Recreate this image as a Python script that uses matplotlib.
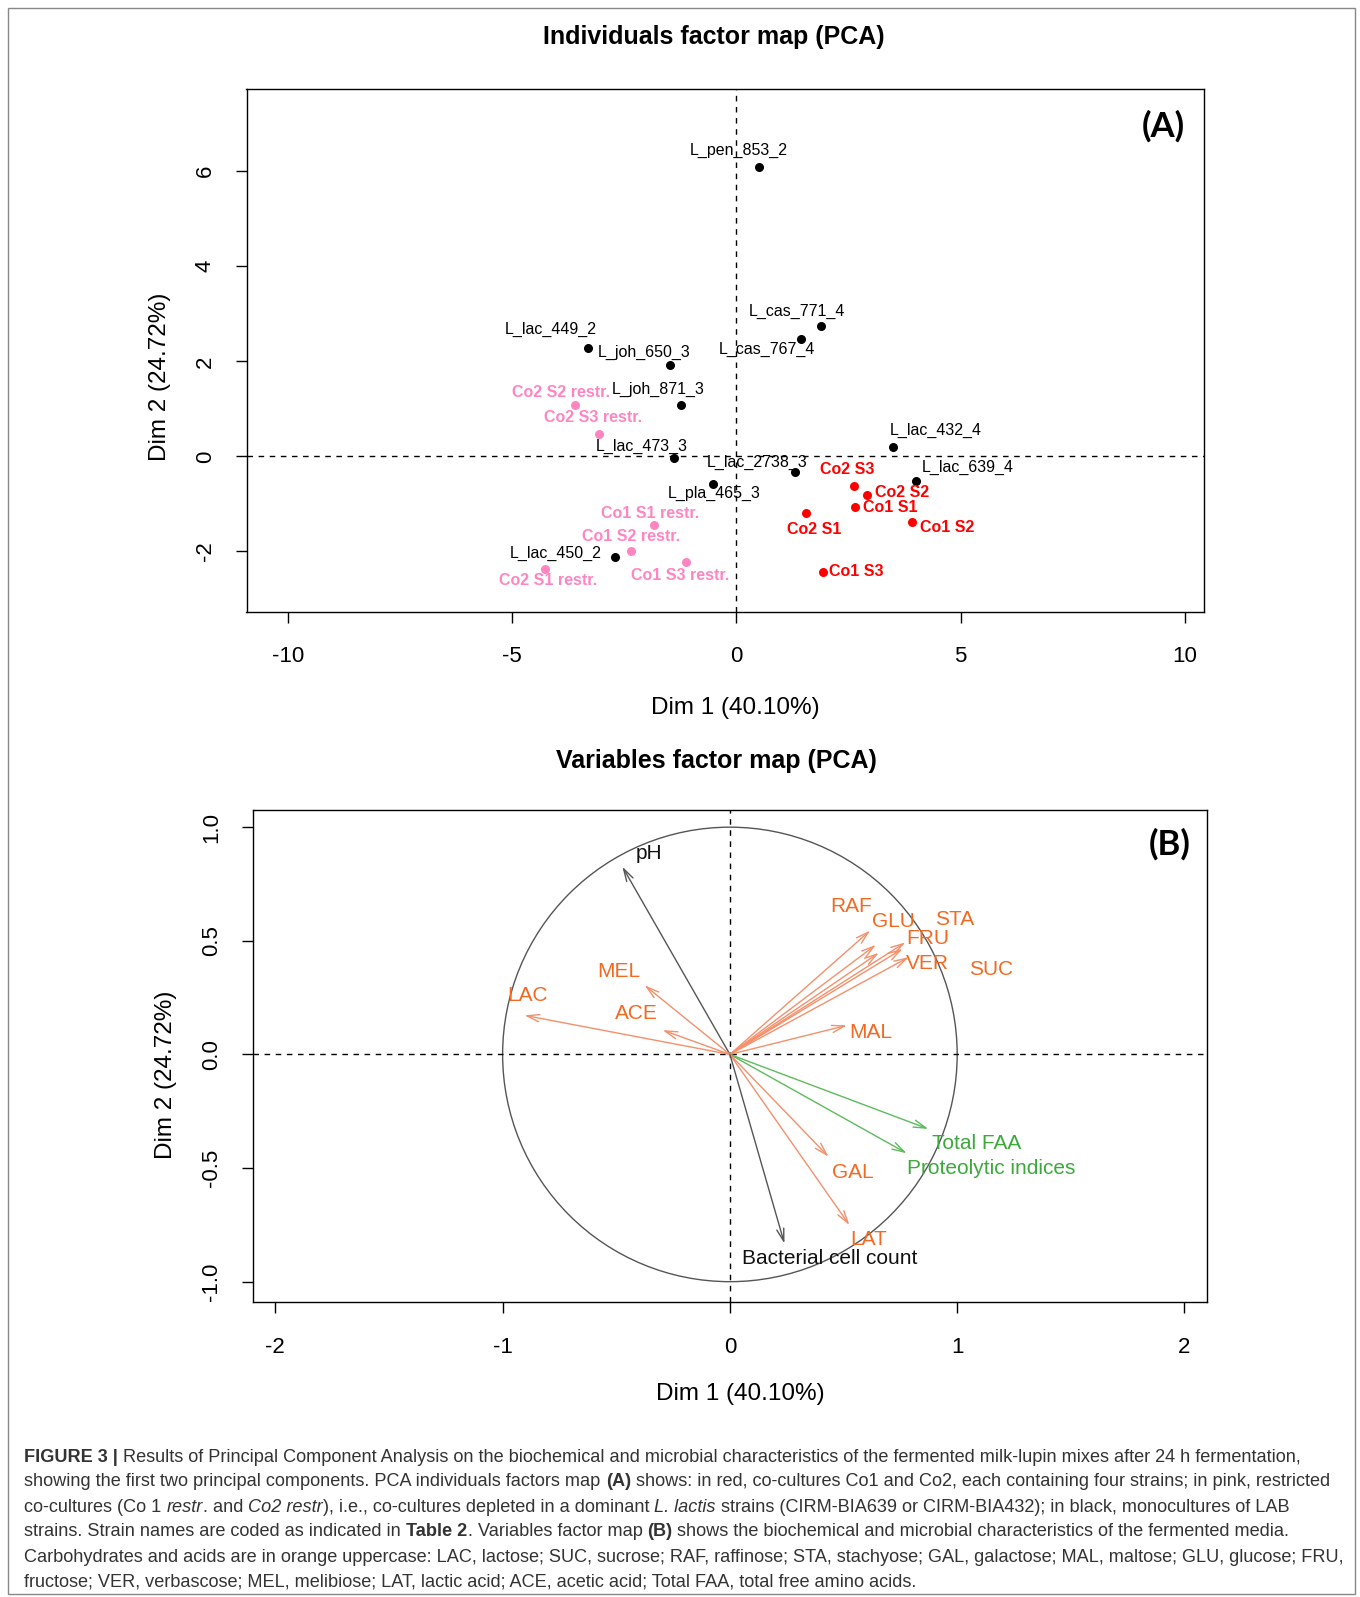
import matplotlib
matplotlib.use("Agg")
import matplotlib.pyplot as plt
from matplotlib.patches import Rectangle, Circle, FancyArrowPatch

plt.rcParams['font.family'] = ['Liberation Sans', 'DejaVu Sans']
plt.rcParams['axes.unicode_minus'] = False

# ---------------- data: individuals (panel A) ----------------
ind_names = ['L_pen_853_2', 'L_cas_771_4', 'L_cas_767_4', 'L_lac_449_2', 'L_joh_650_3',
             'L_joh_871_3', 'Co2 S2 restr.', 'Co2 S3 restr.', 'L_lac_473_3', 'L_lac_432_4',
             'L_lac_2738_3', 'L_lac_639_4', 'L_pla_465_3', 'Co2 S3', 'Co2 S2', 'Co1 S1',
             'Co2 S1', 'Co1 S2', 'Co1 S3', 'Co1 S1 restr.', 'Co1 S2 restr.', 'L_lac_450_2',
             'Co1 S3 restr.', 'Co2 S1 restr.']
ind_x = [0.51, 1.89, 1.44, -3.32, -1.48, -1.24, -3.61, -3.06, -1.40, 3.50,
         1.31, 4.01, -0.52, 2.62, 2.91, 2.64, 1.56, 3.92, 1.92, -1.83, -2.35, -2.71,
         -1.12, -4.27]
ind_y = [6.08, 2.75, 2.47, 2.29, 1.92, 1.08, 1.08, 0.47, -0.04, 0.20,
         -0.33, -0.51, -0.59, -0.62, -0.81, -1.07, -1.20, -1.39, -2.44, -1.45, -1.99, -2.11,
         -2.22, -2.37]
ind_group = ['mono', 'mono', 'mono', 'mono', 'mono', 'mono', 'restr', 'restr', 'mono', 'mono',
             'mono', 'mono', 'mono', 'co', 'co', 'co', 'co', 'co', 'co', 'restr', 'restr', 'mono',
             'restr', 'restr']
# label anchor (repelled by the R plot)
ind_lab_x = [0.05, 1.34, 0.68, -4.14, -2.07, -1.75, -3.91, -3.21, -2.12, 4.44,
             0.46, 5.17, -0.50, 2.46, 3.69, 3.44, 1.73, 4.69, 2.68, -1.93, -2.34, -4.03,
             -1.25, -4.21]
ind_lab_y = [6.43, 3.06, 2.25, 2.68, 2.19, 1.41, 1.35, 0.81, 0.21, 0.54,
             -0.13, -0.24, -0.77, -0.28, -0.77, -1.07, -1.54, -1.50, -2.42, -1.20, -1.69, -2.04,
             -2.51, -2.61]

# ---------------- data: variables (panel B) ----------------
var_names = ['pH', 'LAC', 'MEL', 'ACE', 'MAL', 'RAF', 'GLU', 'SUC', 'STA', 'FRU', 'VER',
             'Total FAA', 'Proteolytic indices', 'GAL', 'LAT', 'Bacterial cell count']
var_x = [-0.473, -0.904, -0.375, -0.296, 0.515, 0.617, 0.642, 0.655, 0.772, 0.760, 0.787,
         0.873, 0.778, 0.434, 0.526, 0.240]
var_y = [0.826, 0.172, 0.304, 0.107, 0.128, 0.545, 0.482, 0.447, 0.493, 0.465, 0.428,
         -0.328, -0.435, -0.450, -0.751, -0.832]
var_group = ['micro', 'carb', 'carb', 'carb', 'carb', 'carb', 'carb', 'carb', 'carb', 'carb', 'carb',
             'prot', 'prot', 'carb', 'carb', 'micro']
var_lab_x = [-0.355, -0.89, -0.49, -0.41, 0.62, 0.535, 0.72, 1.15, 0.99, 0.87, 0.87,
             1.085, 1.15, 0.54, 0.61, 0.44]
var_lab_y = [0.883, 0.26, 0.365, 0.18, 0.098, 0.652, 0.584, 0.372, 0.592, 0.51, 0.40,
             -0.392, -0.50, -0.52, -0.815, -0.898]

ind_col = {'mono': 'black', 'co': '#FF0000', 'restr': '#FF85C2'}
var_line_col = {'micro': '#555555', 'carb': '#F4906C', 'prot': '#5DBB5D'}
var_text_col = {'micro': '#111111', 'carb': '#F26A22', 'prot': '#3BAA3B'}

W, H = 1360, 1597
fig = plt.figure(figsize=(W / 100, H / 100), dpi=100)


def fx(px):
    return px / W


def fy(py):
    return 1 - py / H


def r_axes(ax, xticks, yticks, xpad, ypad, yfmt=None):
    ax.set_xticks(xticks)
    ax.set_yticks(yticks)
    if yfmt:
        ax.set_yticklabels([yfmt % v for v in yticks])
    ax.tick_params(axis='both', direction='out', length=8, width=1, labelsize=16)
    ax.tick_params(axis='x', pad=xpad)
    ax.tick_params(axis='y', pad=ypad)
    for lab in ax.get_yticklabels():
        lab.set_rotation(90)
        lab.set_va('center')
    for s in ax.spines.values():
        s.set_linewidth(1)
    ax.axhline(0, color='black', ls=(0, (4, 4)), lw=1)
    ax.axvline(0, color='black', ls=(0, (4, 4)), lw=1)


# ========== Panel A ==========
axA = fig.add_axes([fx(246.5), fy(612.2), fx(1204 - 246.5), (612.2 - 88.6) / H])
axA.set_xlim(-10.93, 10.43)
axA.set_ylim(-3.28, 7.74)
r_axes(axA, [-10, -5, 0, 5, 10], [-2, 0, 2, 4, 6], 16, 14)

for n, x, y, g, lx, ly in zip(ind_names, ind_x, ind_y, ind_group, ind_lab_x, ind_lab_y):
    axA.scatter(x, y, s=30, color=ind_col[g], zorder=3)
    axA.text(lx, ly, n, color=ind_col[g], fontsize=11.5,
             fontweight='normal' if g == 'mono' else 'bold', ha='center', va='center')

axA.text(0.957, 0.928, '(A)', transform=axA.transAxes, fontsize=25, fontweight='bold',
         family=['Lato', 'Liberation Sans'], ha='center', va='center')

fig.text(fx(714), fy(37), 'Individuals factor map (PCA)', fontsize=18, fontweight='bold',
         ha='center', va='center')
fig.text(fx(735), fy(708), 'Dim 1 (40.10%)', fontsize=17.5, ha='center', va='center')
fig.text(fx(160), fy(377), 'Dim 2 (24.72%)', fontsize=17.5, ha='center', va='center', rotation=90)

# ========== Panel B ==========
axB = fig.add_axes([fx(252.6), fy(1301.9), fx(1207.2 - 252.6), (1301.9 - 809.9) / H])
axB.set_xlim(-2.1, 2.1)
axB.set_ylim(-1.089, 1.076)
r_axes(axB, [-2, -1, 0, 1, 2], [-1.0, -0.5, 0.0, 0.5, 1.0], 17, 14, '%.1f')

axB.add_patch(Circle((0, 0), 1, fill=False, ec='#555555', lw=1))
for n, x, y, g, lx, ly in zip(var_names, var_x, var_y, var_group, var_lab_x, var_lab_y):
    axB.add_patch(FancyArrowPatch((0, 0), (x, y), arrowstyle='->,head_length=9,head_width=2.6',
                                  mutation_scale=1, color=var_line_col[g], lw=1,
                                  shrinkA=0, shrinkB=0, zorder=3))
    axB.text(lx, ly, n, color=var_text_col[g], fontsize=15, ha='center', va='center')

axB.text(0.9605, 0.93, '(B)', transform=axB.transAxes, fontsize=25, fontweight='bold',
         family=['Lato', 'Liberation Sans'], ha='center', va='center')

fig.text(fx(716), fy(761), 'Variables factor map (PCA)', fontsize=18, fontweight='bold',
         ha='center', va='center')
fig.text(fx(740), fy(1394), 'Dim 1 (40.10%)', fontsize=17.5, ha='center', va='center')
fig.text(fx(166), fy(1075), 'Dim 2 (24.72%)', fontsize=17.5, ha='center', va='center', rotation=90)

# ========== outer frame ==========
fig.patches.append(Rectangle((fx(8), fy(1594)), fx(1355 - 8), (1594 - 8) / H,
                             transform=fig.transFigure, fill=False, ec='#888888', lw=1))

# ========== caption ==========
caption = [
    [("FIGURE 3 |", 'bold', 'normal'),
     (" Results of Principal Component Analysis on the biochemical and microbial characteristics "
      "of the fermented milk-lupin mixes after 24 h fermentation,", 'normal', 'normal')],
    [("showing the first two principal components. PCA individuals factors map ", 'normal', 'normal'),
     ("(A)", 'bold', 'normal'),
     (" shows: in red, co-cultures Co1 and Co2, each containing four strains; in pink, restricted",
      'normal', 'normal')],
    [("co-cultures (Co 1 ", 'normal', 'normal'), ("restr", 'normal', 'italic'),
     (". and ", 'normal', 'normal'), ("Co2 restr", 'normal', 'italic'),
     ("), i.e., co-cultures depleted in a dominant ", 'normal', 'normal'),
     ("L. lactis", 'normal', 'italic'),
     (" strains (CIRM-BIA639 or CIRM-BIA432); in black, monocultures of LAB", 'normal', 'normal')],
    [("strains. Strain names are coded as indicated in ", 'normal', 'normal'),
     ("Table 2", 'bold', 'normal'), (". Variables factor map ", 'normal', 'normal'),
     ("(B)", 'bold', 'normal'),
     (" shows the biochemical and microbial characteristics of the fermented media.", 'normal', 'normal')],
    [("Carbohydrates and acids are in orange uppercase: LAC, lactose; SUC, sucrose; RAF, raffinose; "
      "STA, stachyose; GAL, galactose; MAL, maltose; GLU, glucose; FRU,", 'normal', 'normal')],
    [("fructose; VER, verbascose; MEL, melibiose; LAT, lactic acid; ACE, acetic acid; "
      "Total FAA, total free amino acids.", 'normal', 'normal')],
]
cap_y = [1457, 1482, 1507, 1532, 1557, 1582]

renderer = fig.canvas.get_renderer()


def seg_width(s, w, st, size):
    t1 = fig.text(0, 0, 'a' + s + 'a', fontsize=size, fontweight=w, fontstyle=st)
    t2 = fig.text(0, 0, 'aa', fontsize=size, fontweight=w, fontstyle=st)
    wd = t1.get_window_extent(renderer).width - t2.get_window_extent(renderer).width
    t1.remove()
    t2.remove()
    return wd


# fit first caption line to its width in the figure
size = 12.0
w0 = sum(seg_width(s, w, st, size) for s, w, st in caption[0])
size = size * 1278 / w0

for segs, py in zip(caption, cap_y):
    x = 24.5
    for s, w, st in segs:
        fig.text(fx(x), fy(py), s, fontsize=size, fontweight=w, fontstyle=st,
                 color='#333333', ha='left', va='center')
        x += seg_width(s, w, st, size)

fig.savefig('out.png', dpi=100)
